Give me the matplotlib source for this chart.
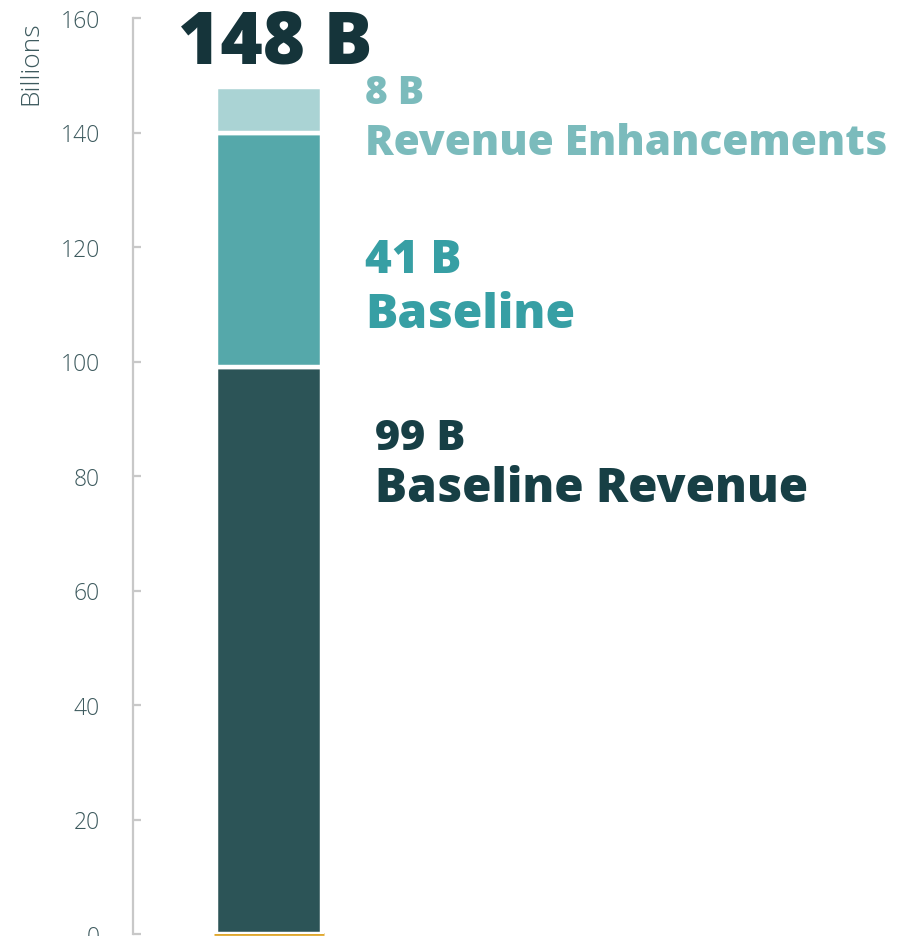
import matplotlib.pyplot as plt

# data
segments = ["Baseline Revenue", "Baseline", "Revenue Enhancements"]
values = [99, 41, 8]
value_labels = ["99 B", "41 B", "8 B"]
total_label = "148 B"
yticks = [0, 20, 40, 60, 80, 100, 120, 140, 160]

# styling / label placement (offsets from each segment top, in billions)
bar_colors = ["#2C5457", "#55A8AA", "#AAD3D4"]
text_colors = ["#173F45", "#379FA4", "#7BBBBC"]
value_sizes = [31, 33, 28]
name_sizes = [34.3, 34.5, 30.5]
value_offsets = [-14.3, -24.3, -2.8]
name_offsets = [-23.4, -34.0, -11.8]
label_x = [1.04, 0.94, 0.94]

plt.rcParams["font.family"] = ["Open Sans", "DejaVu Sans"]

fig = plt.figure(figsize=(9.02, 9.37), dpi=100)
W, H = 902, 937
ax = fig.add_axes([133 / W, 2 / H, (W - 133) / W, 916 / H])

bottom = 0
for val, col in zip(values, bar_colors):
    ax.bar(0, val, bottom=bottom, width=1.04, color=col,
           edgecolor="white", linewidth=3.2, zorder=3)
    bottom += val

# gold baseline under the bar
ax.hlines(0, -0.54, 0.54, color="#E0A82E", linewidth=2, zorder=2, clip_on=False)

# segment labels
bottom = 0
for i, (val, lab, name, col) in enumerate(zip(values, value_labels, segments, text_colors)):
    top = bottom + val
    ax.text(label_x[i], top + value_offsets[i], lab, color=col,
            fontsize=value_sizes[i], fontweight="heavy", ha="left",
            va="baseline", zorder=4)
    ax.text(label_x[i], top + name_offsets[i], name, color=col,
            fontsize=name_sizes[i], fontweight="heavy", ha="left",
            va="baseline", zorder=4)
    bottom = top

ax.text(0.06, sum(values) + 4.3, total_label, color="#15343A", fontsize=52,
        fontweight="heavy", ha="center", va="baseline", zorder=4, clip_on=False)

ax.set_xlim(-1.333, 6.206)
ax.set_ylim(0, 160)
ax.set_yticks(yticks)
ax.set_xticks([])
for s in ["top", "right", "bottom"]:
    ax.spines[s].set_visible(False)
ax.spines["left"].set_color("#C8C8C8")
ax.spines["left"].set_linewidth(1.6)
ax.tick_params(axis="y", direction="in", length=6, width=1.6, color="#C8C8C8",
               labelsize=16.5, labelcolor="#3D5A5E", pad=24)
for t in ax.get_yticklabels():
    t.set_fontweight("light")
ax.set_ylabel("Billions", fontsize=19, color="#3D5A5E", fontweight="light",
              loc="top")
ax.yaxis.set_label_coords(-0.117, 0.997)

fig.savefig("out.png", dpi=100)
